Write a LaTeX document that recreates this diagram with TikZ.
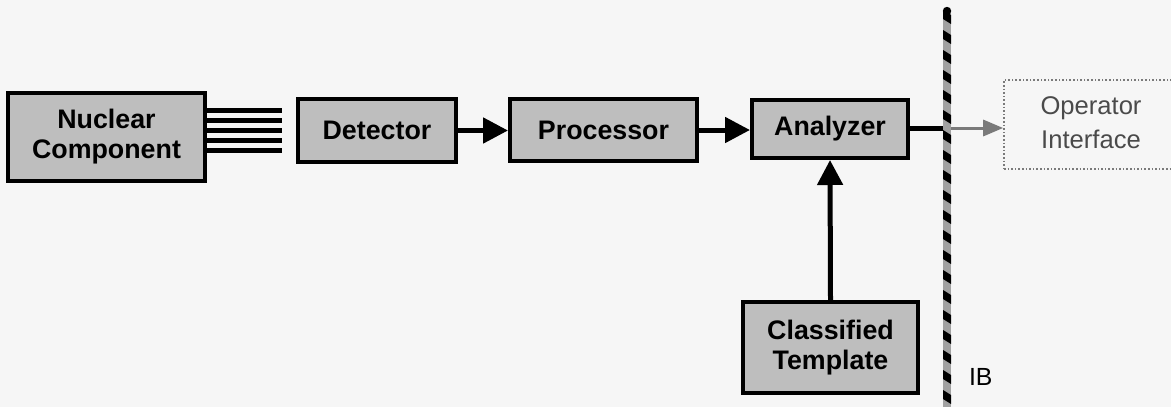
\documentclass[tikz,border=0pt]{standalone}
\usepackage{fontspec}
\setmainfont{Liberation Sans}
\usetikzlibrary{arrows.meta}
\definecolor{paper}{HTML}{F6F6F6}
\definecolor{stipple}{HTML}{BEBEBE}
\definecolor{softgray}{HTML}{7A7A7A}
\definecolor{labelgray}{HTML}{4A4A4A}
\tikzset{
  blockbox/.style={draw=black, line width=2pt, fill=stipple, align=center,
    font=\fontsize{13.4}{15}\selectfont\bfseries, inner sep=0pt},
  flow/.style={line width=2.5pt, -{Triangle[length=12.5pt,width=12.5pt]}},
  beam/.style={line width=2.5pt},
  outbox/.style={draw=softgray, line width=0.8pt, densely dotted, fill=paper,
    inner sep=0pt},
}
\begin{document}
\begin{tikzpicture}[x=0.5pt, y=-0.5pt]
  % page
  \fill[paper] (0,0) rectangle (1171,407);
  \useasboundingbox (0,0) rectangle (1171,407);
  \clip (0,0) rectangle (1171,407);

  % blocks
  \node[blockbox, minimum width=98.5pt, minimum height=44pt] (nuc) at (106.5,137)
    {Nuclear\\Component};
  \node[blockbox, minimum width=79pt, minimum height=31.5pt] (det) at (377,130.5) {Detector};
  \node[blockbox, minimum width=93.5pt, minimum height=31pt] (proc) at (603.5,130) {Processor};
  \node[blockbox, minimum width=78pt, minimum height=29pt] (ana) at (830,129) {Analyzer};
  \node[blockbox, minimum width=87.5pt, minimum height=45.5pt] (tpl) at (830.5,347.5)
    {Classified\\Template};
  \node[outbox, minimum width=98pt, minimum height=44.5pt] (op) at (1102,124.5) {};
  \node[text=labelgray, font=\fontsize{12.8}{17}\selectfont, align=center] (opl) at (1091,123)
    {Operator\\Interface};

  % radiation emitted by the component
  \foreach \i/\yy in {1/110,2/120,3/130,4/140,5/150} {
    \coordinate (ray\i) at (282,\yy);
    \draw[beam] (nuc.east |- ray\i) -- (ray\i);
  }

  % signal chain
  \draw[flow] (det.east) -- (proc.west |- det.east);
  \draw[flow] (proc.east) -- (ana.west |- proc.east);
  \draw[flow] (tpl.north) -- (ana.south);

  % information barrier
  \coordinate (ib) at (947,128);
  \draw[beam] (ana.east |- ib) -- (ib);
  \draw[line width=1.5pt, softgray, -{Triangle[length=10pt,width=8pt]}] (ib) -- (op.west |- ib);

  \fill[stipple!85!black] (943,10) rectangle (951,407);
  \fill[black] (947,11) circle (4.2);
  \foreach \yy in {10,30,...,400} {
    \fill[black] (943,\yy) -- (951,\yy+5) -- (951,\yy+14) -- (943,\yy+9) -- cycle;
  }
  \node[font=\fontsize{12.4}{14}\selectfont, anchor=west] (ibl) at (962,377) {IB};
\end{tikzpicture}
\end{document}
